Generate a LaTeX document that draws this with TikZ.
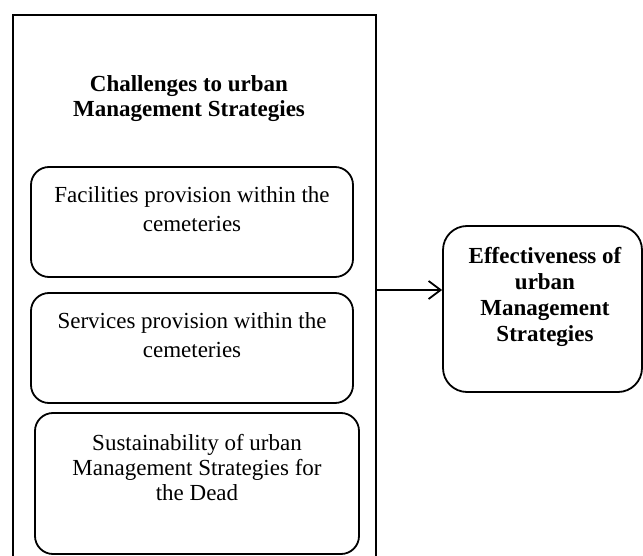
\documentclass[tikz,border=0pt]{standalone}
\usepackage{fontspec}
\setmainfont{Liberation Serif}
\usetikzlibrary{arrows.meta}

\begin{document}
\begin{tikzpicture}[x=0.5pt, y=-0.5pt, >={Straight Barb[length=6pt, width=9pt]},
    frame/.style={draw, line width=1pt, inner sep=0pt},
    box/.style={draw, rounded corners=9pt, line width=0.9pt, inner sep=0pt},
    txt/.style={align=center, inner sep=0pt, anchor=base, font=\fontsize{11.5}{14}\selectfont},
    head/.style={txt, font=\fontsize{11.5}{12.5}\selectfont\bfseries}]

    \useasboundingbox (0,0) rectangle (643,556);

    % --- LEFT FRAME: the challenges ---
    \node[frame, anchor=north west, minimum width=181.5pt, minimum height=300pt] (chal) at (12,14) {};
    % (base anchor sits on the last line)
    \node[head] (title) at (189,117) {Challenges to urban\\Management Strategies};

    % inner boxes
    \node[box, minimum width=161pt, minimum height=55pt] (fac) at (192,222) {};
    \node[txt] (factxt) at (192,231) {Facilities provision within the\\cemeteries};

    \node[box, minimum width=161pt, minimum height=55pt] (serv) at (192,348) {};
    \node[txt] (servtxt) at (192,357) {Services provision within the\\cemeteries};

    \node[box, minimum width=162pt, minimum height=70.5pt] (sust) at (197,483.5) {};
    \node[txt, font=\fontsize{11.5}{12.5}\selectfont] (susttxt) at (197,500) {Sustainability of urban\\Management Strategies for\\the Dead};

    % --- RIGHT BOX: the outcome ---
    \node[box, rounded corners=12pt, minimum width=99.5pt, minimum height=83pt] (eff) at (542.5,309) {};
    \node[head, font=\fontsize{11.5}{13}\selectfont\bfseries] (efftxt) at (545,341) {Effectiveness of\\urban\\Management\\Strategies};

    % arrow from frame to outcome
    \coordinate (lvl) at (0,290);
    \draw[->, line width=0.9pt] (chal.east |- lvl) -- (eff.west |- lvl);
\end{tikzpicture}
\end{document}
